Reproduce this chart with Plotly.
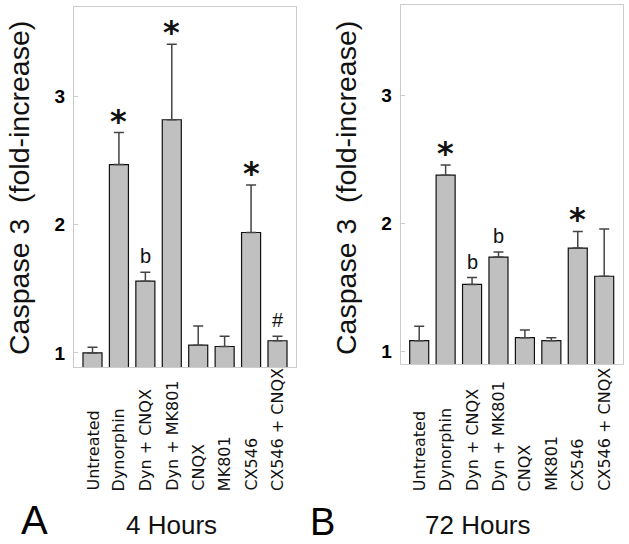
import plotly.graph_objects as go

categories = ["Untreated", "Dynorphin", "Dyn + CNQX", "Dyn + MK801",
              "CNQX", "MK801", "CX546", "CX546 + CNQX"]

# Panel A: 4 hours
a_values = [1.00, 2.47, 1.56, 2.82, 1.06, 1.05, 1.94, 1.095]
a_err_top = [1.044, 2.72, 1.63, 3.41, 1.21, 1.13, 2.31, 1.13]
a_marks = ["", "*", "b", "*", "", "", "*", "#"]

# Panel B: 72 hours
b_values = [1.086, 2.38, 1.526, 1.74, 1.11, 1.086, 1.81, 1.59]
b_err_top = [1.20, 2.46, 1.58, 1.78, 1.17, 1.11, 1.94, 1.96]
b_marks = ["", "*", "b", "b", "", "", "*", ""]

y_ticks = [1, 2, 3]

FONT = "Liberation Sans, Arial, sans-serif"
W, H = 629, 544

fig = go.Figure()

panels = [
    ("x", "y", a_values, a_err_top, a_marks),
    ("x2", "y2", b_values, b_err_top, b_marks),
]

xs = list(range(len(categories)))
annotations = []
for xr, yr, vals, tops, marks in panels:
    fig.add_trace(go.Bar(
        x=xs, y=vals, xaxis=xr, yaxis=yr, width=0.72,
        marker=dict(color="#c0c0c0", line=dict(color="#111111", width=1.2)),
        error_y=dict(type="data", symmetric=False,
                     array=[t - v for t, v in zip(tops, vals)],
                     arrayminus=[0] * len(vals),
                     color="#444444", thickness=1.5, width=5),
        showlegend=False, hoverinfo="skip",
    ))
    for i, (t, m) in enumerate(zip(tops, marks)):
        if not m:
            continue
        if m == "*":
            annotations.append(dict(x=i, y=t, xref=xr, yref=yr, text="<b>*</b>",
                                    showarrow=False, yanchor="middle", yshift=12,
                                    font=dict(family="DejaVu Sans", size=32, color="#111")))
        else:
            annotations.append(dict(x=i, y=t, xref=xr, yref=yr, text=m,
                                    showarrow=False, yanchor="middle", yshift=16,
                                    font=dict(family=FONT, size=20, color="#111")))
    # category labels (bottom aligned, rotated)
    for i, c in enumerate(categories):
        annotations.append(dict(x=i, y=(H - 493) / H, xref=xr, yref="paper", text=c,
                                showarrow=False, textangle=-90, yanchor="bottom",
                                xanchor="center",
                                font=dict(family="DejaVu Sans", size=16, color="#111")))

# y axis titles
for xpix in (19, 346):
    annotations.append(dict(x=xpix / W, y=(H - 188) / H, xref="paper", yref="paper",
                            text="Caspase 3 \u00a0(fold-increase)", showarrow=False,
                            textangle=-90, xanchor="center", yanchor="middle",
                            borderpad=0,
                            font=dict(family=FONT, size=28.5, color="#111")))

# panel letters and time labels
annotations.append(dict(x=34 / W, y=(H - 520) / H, xref="paper", yref="paper", text="A",
                        showarrow=False, xanchor="center", yanchor="middle",
                        font=dict(family=FONT, size=40, color="#000")))
annotations.append(dict(x=322 / W, y=(H - 522) / H, xref="paper", yref="paper", text="B",
                        showarrow=False, xanchor="center", yanchor="middle",
                        font=dict(family=FONT, size=38, color="#000")))
annotations.append(dict(x=171 / W, y=(H - 525) / H, xref="paper", yref="paper", text="4 Hours",
                        showarrow=False, xanchor="center", yanchor="middle",
                        font=dict(family=FONT, size=26, color="#111")))
annotations.append(dict(x=478 / W, y=(H - 525) / H, xref="paper", yref="paper", text="72 Hours",
                        showarrow=False, xanchor="center", yanchor="middle",
                        font=dict(family=FONT, size=26, color="#111")))

box = dict(showline=True, linecolor="#cccccc", linewidth=1, mirror=True,
           showgrid=False, zeroline=False)

fig.update_layout(
    width=W, height=H, margin=dict(l=0, r=0, t=0, b=0),
    paper_bgcolor="white", plot_bgcolor="white",
    bargap=0.28,
    annotations=annotations,
    xaxis=dict(domain=[74 / W, 296 / W], range=[-0.7, 7.7], showticklabels=False,
               ticks="", anchor="y", **box),
    xaxis2=dict(domain=[400.7 / W, 622.7 / W], range=[-0.7, 7.7], showticklabels=False,
                ticks="", anchor="y2", **box),
    yaxis=dict(domain=[(H - 367) / H, (H - 7) / H], range=[0.89, 3.70],
               tickvals=y_ticks, ticktext=[str(v) for v in y_ticks],
               ticks="inside", ticklen=4, tickcolor="#cccccc", anchor="x",
               tickfont=dict(family=FONT, size=19, color="#000", weight="bold"),
               ticklabelstandoff=4, **box),
    yaxis2=dict(domain=[(H - 364) / H, (H - 5) / H], range=[0.904, 3.71],
                tickvals=y_ticks, ticktext=[str(v) for v in y_ticks],
                ticks="inside", ticklen=4, tickcolor="#cccccc", anchor="x2",
                tickfont=dict(family=FONT, size=19, color="#000", weight="bold"),
                ticklabelstandoff=4, **box),
)

fig.write_html("out.html", config={"displayModeBar": False},
               post_script="document.body.style.margin='0';")
